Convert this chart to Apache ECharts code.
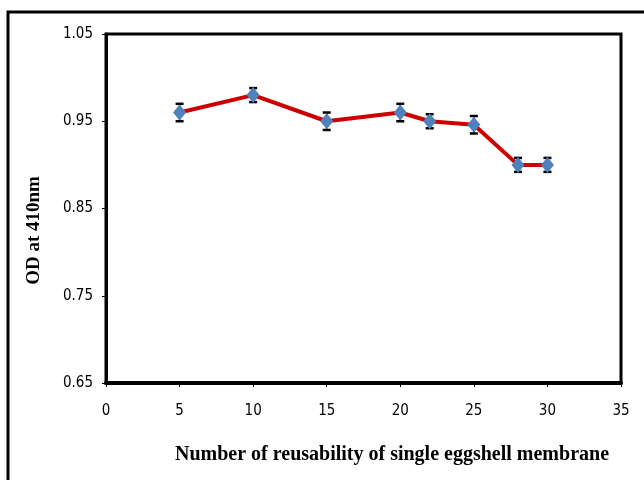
<!DOCTYPE html>
<html>
<head>
<meta charset="utf-8">
<script src="https://cdn.jsdelivr.net/npm/echarts@6/dist/echarts.min.js"></script>
<style>
  html, body { margin: 0; padding: 0; background: #fff; }
  #chart { width: 644px; height: 480px; }
</style>
</head>
<body>
<div id="chart"></div>
<script>
// 数据
var cycles = [5, 10, 15, 20, 22, 25, 28, 30];
var odValues = [0.96, 0.98, 0.95, 0.96, 0.95, 0.946, 0.90, 0.90];
var odErrors = [0.01, 0.008, 0.01, 0.01, 0.008, 0.01, 0.008, 0.008];
var yTicks = [0.65, 0.75, 0.85, 0.95, 1.05];
var xTicks = [0, 5, 10, 15, 20, 25, 30, 35];

var myChart = echarts.init(document.getElementById('chart'));

var lineData = cycles.map(function (c, i) { return [c, odValues[i]]; });
var errData = cycles.map(function (c, i) {
    return [c, odValues[i] - odErrors[i], odValues[i] + odErrors[i]];
});

var tickFont = 'DejaVu Sans Condensed, Liberation Sans, sans-serif';

var option = {
    backgroundColor: '#fff',
    animation: false,
    graphic: [{
        type: 'rect',
        shape: { x: 8, y: 12, width: 700, height: 520 },
        style: { fill: 'none', stroke: '#000', lineWidth: 3 },
        z: -1
    }],
    grid: {
        left: 106, right: 23, top: 34, bottom: 97,
        show: true, borderColor: '#000', borderWidth: 3,
        backgroundColor: '#fff'
    },
    xAxis: {
        type: 'value', min: 0, max: 35, interval: 5,
        name: 'Number of reusability of single eggshell membrane',
        nameLocation: 'middle', nameGap: 62,
        nameTextStyle: { fontFamily: 'Liberation Serif', fontWeight: 'bold', fontSize: 20, color: '#000', padding: [0, 0, 0, 57] },
        axisLine: { onZero: false, lineStyle: { color: '#000', width: 4 } },
        axisTick: { show: true, length: 4, lineStyle: { color: '#000', width: 1 } },
        axisLabel: {
            margin: 21, fontFamily: tickFont, fontSize: 15, color: '#000',
            customValues: xTicks
        },
        splitLine: { show: false }
    },
    yAxis: {
        type: 'value', min: 0.65, max: 1.05,
        name: 'OD at 410nm',
        nameLocation: 'middle', nameGap: 62, nameRotate: 90,
        nameTextStyle: { fontFamily: 'Liberation Serif', fontWeight: 'bold', fontSize: 19, color: '#000', padding: [0, 44, 0, 0] },
        axisLine: { lineStyle: { color: '#000', width: 3 } },
        axisTick: { show: true, length: 4, customValues: yTicks, lineStyle: { color: '#000', width: 1 } },
        axisLabel: {
            margin: 13, fontFamily: tickFont, fontSize: 15, color: '#000',
            customValues: yTicks,
            formatter: function (v) { return v.toFixed(2); }
        },
        splitLine: { show: false }
    },
    series: [{
        type: 'custom',
        data: errData,
        z: 2,
        renderItem: function (params, api) {
            var x = api.value(0);
            var lo = api.coord([x, api.value(1)]);
            var hi = api.coord([x, api.value(2)]);
            var w = 4;
            return {
                type: 'group',
                children: [
                    { type: 'line', shape: { x1: lo[0], y1: lo[1], x2: hi[0], y2: hi[1] }, style: { stroke: '#000', lineWidth: 1.5 } },
                    { type: 'line', shape: { x1: lo[0] - w, y1: lo[1], x2: lo[0] + w, y2: lo[1] }, style: { stroke: '#000', lineWidth: 2.5 } },
                    { type: 'line', shape: { x1: hi[0] - w, y1: hi[1], x2: hi[0] + w, y2: hi[1] }, style: { stroke: '#000', lineWidth: 2.5 } }
                ]
            };
        }
    }, {
        type: 'line',
        data: lineData,
        symbol: 'diamond',
        symbolSize: [13, 16],
        itemStyle: { color: '#4f81bd' },
        lineStyle: { color: '#cc0000', width: 4 },
        z: 3
    }]
};

myChart.setOption(option);
</script>
</body>
</html>
